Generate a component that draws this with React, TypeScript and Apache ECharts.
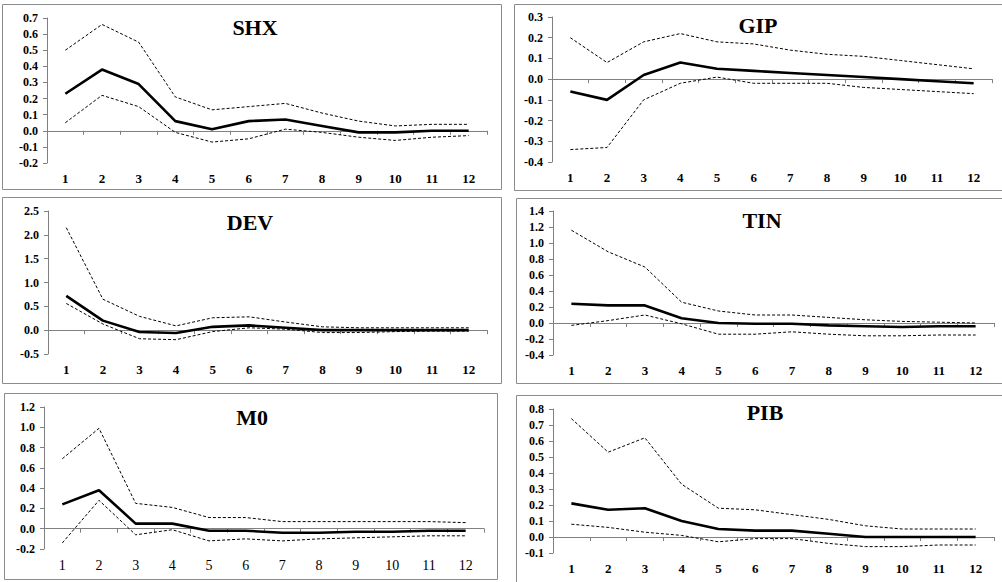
import React, { useEffect, useRef } from "react";
import * as echarts from "echarts";

const periods = ["1", "2", "3", "4", "5", "6", "7", "8", "9", "10", "11", "12"];

const shxIrf = [0.23, 0.38, 0.29, 0.06, 0.01, 0.06, 0.07, 0.03, -0.01, -0.01, 0.0, 0.0];
const shxUpper = [0.5, 0.66, 0.55, 0.21, 0.13, 0.15, 0.17, 0.11, 0.06, 0.03, 0.04, 0.04];
const shxLower = [0.05, 0.22, 0.15, -0.01, -0.07, -0.05, 0.01, -0.01, -0.04, -0.06, -0.04, -0.03];

const gipIrf = [-0.06, -0.1, 0.02, 0.08, 0.05, 0.04, 0.03, 0.02, 0.01, 0.0, -0.01, -0.02];
const gipUpper = [0.2, 0.08, 0.18, 0.22, 0.18, 0.17, 0.14, 0.12, 0.11, 0.09, 0.07, 0.05];
const gipLower = [-0.34, -0.33, -0.1, -0.02, 0.01, -0.02, -0.02, -0.02, -0.04, -0.05, -0.06, -0.07];

const devIrf = [0.72, 0.2, -0.04, -0.06, 0.07, 0.1, 0.05, 0.0, 0.0, 0.0, 0.0, 0.0];
const devUpper = [2.15, 0.65, 0.29, 0.09, 0.26, 0.28, 0.17, 0.07, 0.05, 0.05, 0.05, 0.05];
const devLower = [0.56, 0.13, -0.18, -0.2, -0.03, 0.05, 0.02, -0.05, -0.05, -0.03, -0.02, -0.02];

const tinIrf = [0.24, 0.22, 0.22, 0.06, 0.0, -0.01, -0.01, -0.03, -0.04, -0.05, -0.04, -0.04];
const tinUpper = [1.16, 0.89, 0.7, 0.26, 0.15, 0.1, 0.1, 0.07, 0.04, 0.02, 0.01, 0.0];
const tinLower = [-0.03, 0.03, 0.1, -0.01, -0.14, -0.14, -0.11, -0.14, -0.16, -0.16, -0.15, -0.15];

const m0Irf = [0.24, 0.38, 0.05, 0.05, -0.02, -0.02, -0.04, -0.04, -0.03, -0.03, -0.02, -0.02];
const m0Upper = [0.69, 0.99, 0.25, 0.21, 0.11, 0.11, 0.07, 0.07, 0.07, 0.07, 0.07, 0.06];
const m0Lower = [-0.14, 0.28, -0.06, -0.01, -0.12, -0.1, -0.12, -0.1, -0.09, -0.08, -0.07, -0.07];

const pibIrf = [0.21, 0.17, 0.18, 0.1, 0.05, 0.04, 0.04, 0.02, 0.0, 0.0, 0.0, 0.0];
const pibUpper = [0.74, 0.53, 0.62, 0.33, 0.18, 0.17, 0.14, 0.11, 0.07, 0.05, 0.05, 0.05];
const pibLower = [0.08, 0.06, 0.03, 0.01, -0.03, -0.01, -0.01, -0.04, -0.06, -0.06, -0.05, -0.05];

const titles = ["SHX", "GIP", "DEV", "TIN", "M0", "PIB"];
const yMins = [-0.2, -0.4, -0.5, -0.4, -0.2, -0.1];
const yMaxs = [0.7, 0.3, 2.5, 1.4, 1.2, 0.8];
const yIntervals = [0.1, 0.1, 0.5, 0.2, 0.2, 0.1];

const seriesData = [
  [shxIrf, shxUpper, shxLower],
  [gipIrf, gipUpper, gipLower],
  [devIrf, devUpper, devLower],
  [tinIrf, tinUpper, tinLower],
  [m0Irf, m0Upper, m0Lower],
  [pibIrf, pibUpper, pibLower],
];

// layout (px)
const grids = [
  { left: 47, top: 18, width: 440, height: 145 },
  { left: 552, top: 17, width: 440, height: 145 },
  { left: 48, top: 211, width: 439, height: 143 },
  { left: 553, top: 211, width: 441, height: 144 },
  { left: 44, top: 407, width: 440, height: 142 },
  { left: 553, top: 409, width: 441, height: 144 },
];
const frames = [
  { x: 2, y: 4, width: 499, height: 185 },
  { x: 514, y: 4, width: 490, height: 186 },
  { x: 2, y: 197, width: 499, height: 186 },
  { x: 516, y: 198, width: 490, height: 185 },
  { x: 4, y: 393, width: 493, height: 186 },
  { x: 516, y: 395, width: 490, height: 192 },
];
const titlePos = [
  { x: 255, y: 27 },
  { x: 758, y: 25 },
  { x: 250, y: 222 },
  { x: 762, y: 220 },
  { x: 252, y: 417 },
  { x: 765, y: 412 },
];

const FONT = '"Liberation Serif", "Times New Roman", serif';
const AXIS_COLOR = "#808080";

export default function App() {
  const ref = useRef<HTMLDivElement>(null);
  useEffect(() => {
    if (!ref.current) return;
    const chart = echarts.init(ref.current, null, { renderer: "svg" });

    const xAxes: any[] = [];
    const yAxes: any[] = [];
    const series: any[] = [];
    grids.forEach((g, i) => {
      const plainX = i === 4;
      xAxes.push({
        type: "category",
        gridIndex: i,
        data: periods,
        position: "bottom",
        boundaryGap: true,
        axisLine: { show: false, onZero: false },
        axisTick: { show: false },
        splitLine: { show: false },
        axisLabel: {
          show: true,
          margin: 9,
          color: "#000",
          fontFamily: FONT,
          fontWeight: plainX ? "normal" : "bold",
          fontSize: plainX ? 14 : 13,
          interval: 0,
        },
      });
      xAxes.push({
        type: "category",
        gridIndex: i,
        data: periods,
        position: "bottom",
        boundaryGap: true,
        axisLine: { show: true, onZero: true, lineStyle: { color: AXIS_COLOR, width: 1 } },
        axisTick: { show: true, inside: false, length: 4, interval: 0, lineStyle: { color: AXIS_COLOR } },
        axisLabel: { show: false },
        splitLine: { show: false },
      });
      yAxes.push({
        type: "value",
        gridIndex: i,
        min: yMins[i],
        max: yMaxs[i],
        interval: yIntervals[i],
        axisLine: { show: true, lineStyle: { color: AXIS_COLOR, width: 1 } },
        axisTick: { show: true, inside: false, length: 4, lineStyle: { color: AXIS_COLOR } },
        splitLine: { show: false },
        axisLabel: {
          margin: 9,
          color: "#000",
          fontFamily: FONT,
          fontWeight: "bold",
          fontSize: 12,
          formatter: (v: number) => (Math.abs(v) < 1e-9 ? 0 : v).toFixed(1),
        },
      });
      const [irf, up, lo] = seriesData[i];
      const base = {
        type: "line",
        xAxisIndex: 2 * i,
        yAxisIndex: i,
        symbol: "none",
        silent: true,
      };
      series.push({
        ...base,
        name: titles[i] + " upper",
        data: up,
        lineStyle: { color: "#000", width: 1, type: [3, 2] },
        z: 2,
      });
      series.push({
        ...base,
        name: titles[i] + " lower",
        data: lo,
        lineStyle: { color: "#000", width: 1, type: [3, 2] },
        z: 2,
      });
      series.push({
        ...base,
        name: titles[i],
        data: irf,
        lineStyle: { color: "#000", width: 2.6 },
        z: 3,
      });
    });

    const graphics: any[] = [];
    frames.forEach((f) => {
      graphics.push({
        type: "rect",
        shape: { x: f.x + 0.5, y: f.y + 0.5, width: f.width, height: f.height },
        style: { fill: "none", stroke: "#8c8c8c", lineWidth: 1 },
        z: -1,
        silent: true,
      });
    });
    titlePos.forEach((p, i) => {
      graphics.push({
        type: "text",
        x: p.x,
        y: p.y,
        style: {
          text: titles[i],
          fill: "#000",
          font: `bold 22px ${FONT}`,
          textAlign: "center",
          textVerticalAlign: "middle",
        },
        z: 10,
      });
    });

    chart.setOption({
      animation: false,
      backgroundColor: "#fff",
      grid: grids.map((g) => ({ ...g, containLabel: false })),
      xAxis: xAxes,
      yAxis: yAxes,
      series,
      graphic: graphics,
    });
    return () => chart.dispose();
  }, []);
  return (
    <div
      ref={ref}
      style={{ position: "fixed", left: 0, top: 0, width: 1002, height: 582 }}
    />
  );
}
